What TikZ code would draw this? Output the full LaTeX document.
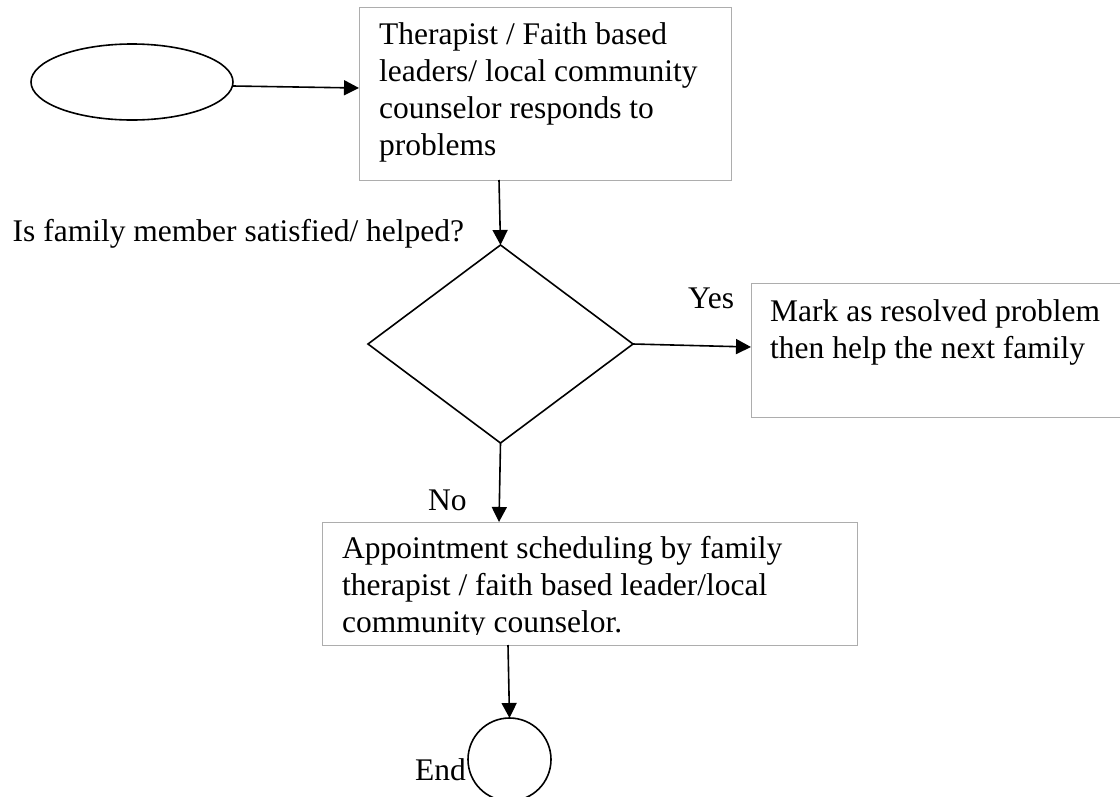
\documentclass[tikz,border=0pt]{standalone}
\usepackage{fontspec}
\setmainfont{Liberation Serif}
\usetikzlibrary{shapes.geometric,arrows.meta,calc}

\tikzset{
  panel/.style={draw=black!32, line width=1pt, rectangle, anchor=north west,
                inner sep=0pt, outer sep=0pt},
  % multi-line text: the base anchor sits on the last line
  txt/.style={anchor=base west, inner sep=0pt, align=left,
              font=\fontsize{31.5}{37}\selectfont},
  label/.style={anchor=base west, inner sep=0pt,
                font=\fontsize{31.5}{37}\selectfont},
  outline/.style={draw=black, line width=1.6pt, inner sep=0pt, outer sep=0pt},
  arr/.style={line width=1.6pt, -{Triangle[length=15pt,width=15pt]}}
}

\begin{document}
\begin{tikzpicture}[x=1pt,y=-1pt]
\useasboundingbox (0,0) rectangle (1120,796);

% start terminal
\node[outline, ellipse, minimum width=202pt, minimum height=76pt] (start) at (132,82) {};

% first process box
\node[panel, minimum width=372pt, minimum height=173pt] (respond) at (359,7) {};
\node[txt] (respondtext) at (379,155)
  {Therapist / Faith based\\leaders/ local community\\counselor responds to\\problems};

% decision
\node[label] (question) at (12.5,241.5) {Is family member satisfied/ helped?};
\node[outline, diamond, minimum width=265pt, minimum height=198pt] (decision) at (500.5,344) {};

% yes branch
\node[panel, minimum width=380pt, minimum height=134pt] (resolved) at (751,283) {};
\node[txt] (resolvedtext) at (770,358.5)
  {Mark as resolved problem\\then help the next family};
\node[label] (yes) at (688,308) {Yes};

% no branch
\node[panel, minimum width=535pt, minimum height=123pt] (schedule) at (322,522) {};
\begin{scope}
  \clip (322,522) rectangle (857,634);
  \node[txt] (scheduletext) at (342,632)
    {Appointment scheduling by family\\therapist / faith based leader/local\\community counselor.};
\end{scope}
\node[label] (no) at (428,510) {No};

% end terminal
\node[outline, circle, minimum size=83pt] (finish) at (509.5,759.5) {};
\node[label] (endlabel) at (415,780) {End};

% connectors
\draw[arr] ($(start.east)+(0,4)$) -- ($(respond.north west)+(0,81)$);
\draw[arr] ($(respond.south west)+(140,0)$) -- (decision.north);
\draw[arr] (decision.east) -- ($(resolved.north west)+(0,64)$);
\draw[arr] (decision.south) -- ($(schedule.north west)+(177,0)$);
\draw[arr] ($(schedule.south west)+(186,0)$) -- (finish.north);
\end{tikzpicture}
\end{document}
